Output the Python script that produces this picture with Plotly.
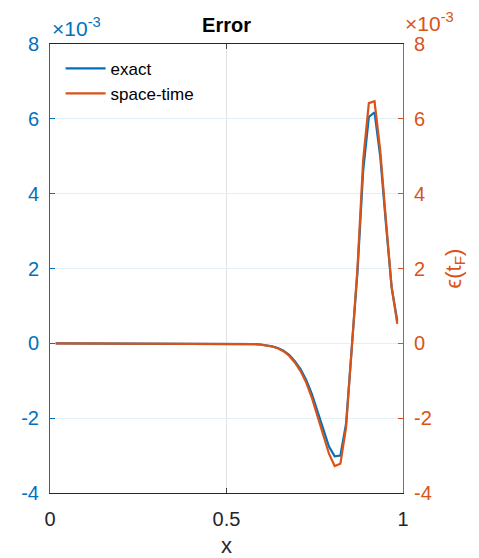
import numpy as np
import plotly.graph_objects as go

# Grid: interior nodes x_k = k/62, k = 1..61
n_cells = 62
x = np.arange(1, n_cells) / n_cells

# Error values in units of 1e-3 (30 near-zero nodes, then the active region)
zeros_head = [0.0] * 30
exact_tail = [-0.001, -0.002, -0.004, -0.007, -0.011, -0.019, -0.031, -0.05, -0.08, -0.125,
              -0.2, -0.31, -0.48, -0.69, -0.98, -1.36, -1.82, -2.3, -2.76, -3.02,
              -3.0, -2.15, 0.0, 1.9, 4.6, 6.05, 6.17, 5.0, 3.2, 1.5, 0.6]
spacetime_tail = [-0.001, -0.002, -0.004, -0.007, -0.012, -0.02, -0.033, -0.053, -0.085, -0.13,
                  -0.21, -0.33, -0.51, -0.74, -1.05, -1.46, -1.95, -2.45, -2.95, -3.28,
                  -3.22, -2.25, 0.0, 2.0, 4.9, 6.42, 6.47, 5.16, 3.3, 1.5, 0.52]
exact = np.array(zeros_head + exact_tail) * 1e-3
spacetime = np.array(zeros_head + spacetime_tail) * 1e-3

y_ticks = [-4, -2, 0, 2, 4, 6, 8]
y_tick_labels = [str(v) for v in y_ticks]
x_ticks = [0, 0.5, 1]
x_tick_labels = ["0", "0.5", "1"]

BLUE = "#0072BD"
ORANGE = "#D95319"
DARK = "#262626"
FONT = "Liberation Sans, Arial, sans-serif"

fig = go.Figure()
fig.add_trace(go.Scatter(x=x, y=exact, mode="lines", name="exact",
                         line=dict(color=BLUE, width=2.2), yaxis="y"))
fig.add_trace(go.Scatter(x=x, y=spacetime, mode="lines", name="space-time",
                         line=dict(color=ORANGE, width=2.2), yaxis="y2"))

yvals = [v * 1e-3 for v in y_ticks]
common_y = dict(range=[-4e-3, 8e-3], tickvals=yvals, ticktext=y_tick_labels,
                ticks="inside", ticklen=5, showline=True, linewidth=1,
                zeroline=False, ticklabelstandoff=6, automargin=False,
                tickfont=dict(size=20, family=FONT))

fig.update_layout(
    width=479, height=558,
    margin=dict(l=50, r=76, t=44, b=65, autoexpand=False),
    paper_bgcolor="white", plot_bgcolor="white",
    font=dict(family=FONT, color=DARK),
    title=dict(text="<b>Error</b>", x=(50 + 403) / 2 / 479, xanchor="center",
               y=1 - 25 / 558, yanchor="middle", font=dict(size=20, color="black"),
               automargin=False),
    xaxis=dict(range=[0, 1], tickvals=x_ticks, ticktext=x_tick_labels,
               ticks="inside", ticklen=5, showline=True, linecolor=DARK, linewidth=1,
               mirror="ticks", showgrid=True, gridcolor="#E2E2E2", zeroline=False,
               ticklabelstandoff=8, automargin=False,
               tickfont=dict(size=20, color=DARK, family=FONT),
               title=dict(text="x", font=dict(size=22, color=DARK), standoff=8)),
    yaxis=dict(**common_y, color=BLUE, linecolor=BLUE, tickcolor=BLUE,
               showgrid=True, gridcolor="#E3EEF7"),
    yaxis2=dict(**common_y, color=ORANGE, linecolor=ORANGE, tickcolor=ORANGE,
                overlaying="y", side="right", showgrid=False,
                title=dict(text="ϵ(t<sub>F</sub>)", font=dict(size=22, color=ORANGE),
                           standoff=14)),
    legend=dict(x=0.03, y=0.985, xanchor="left", yanchor="top",
                bgcolor="rgba(0,0,0,0)", font=dict(size=17, color="black"),
                tracegroupgap=0, itemwidth=40),
    showlegend=True,
)

# Axis exponent labels
fig.add_annotation(text="×10<sup>-3</sup>", xref="paper", yref="paper",
                   x=0, y=1, xanchor="left", yanchor="bottom", yshift=2,
                   showarrow=False, font=dict(size=21, color=BLUE))
fig.add_annotation(text="×10<sup>-3</sup>", xref="paper", yref="paper",
                   x=1, y=1, xanchor="left", yanchor="bottom", xshift=0, yshift=7,
                   showarrow=False, font=dict(size=21, color=ORANGE))

fig.write_html("out.html")
